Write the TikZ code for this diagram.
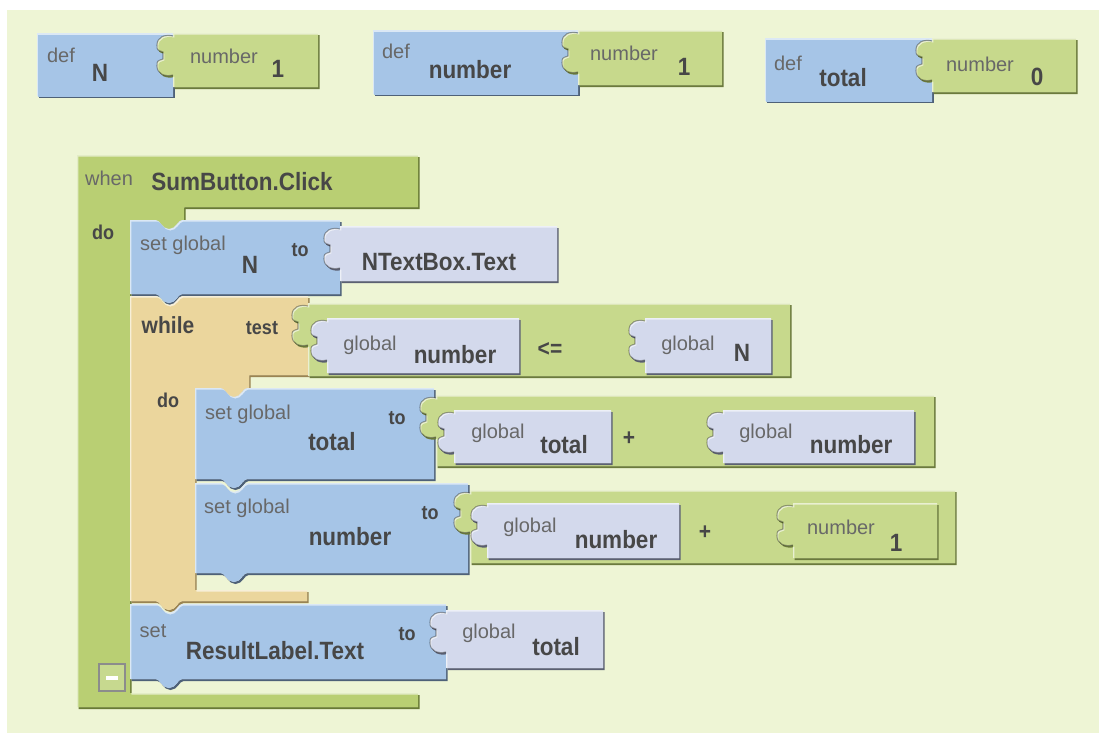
\documentclass[tikz,border=0pt]{standalone}
\usepackage{fontspec}
\setmainfont{Liberation Sans}
\newfontfamily\bfont[FakeStretch=0.9]{Liberation Sans}

\definecolor{bg}{HTML}{EEF5D5}
\definecolor{blockblue}{HTML}{A6C5E7}
\definecolor{blueshade}{HTML}{4E6178}
\definecolor{numgreen}{HTML}{C7D98C}
\definecolor{greenshade}{HTML}{6B7A3C}
\definecolor{evgreen}{HTML}{B9CF73}
\definecolor{evshade}{HTML}{687A35}
\definecolor{lav}{HTML}{D3D9EC}
\definecolor{lavshade}{HTML}{5B6072}
\definecolor{blocktan}{HTML}{EBD69D}
\definecolor{tanshade}{HTML}{9A8452}
\definecolor{txtdark}{HTML}{474747}
\definecolor{txtgray}{HTML}{686868}
\definecolor{minusgray}{HTML}{8C8C8C}

% outline of the plug on the left side of a value block
\def\plugcurve#1#2{(#1,{#2+42})
  .. controls ({#1-8},{#2+44}) and ({#1-16},{#2+41}) .. ({#1-16},{#2+33})
  .. controls ({#1-16},{#2+28}) .. ({#1-10},{#2+26}) -- ({#1-10},{#2+19})
  .. controls ({#1-16},{#2+17}) .. ({#1-16},{#2+12})
  .. controls ({#1-16},{#2+4}) and ({#1-8},{#2+1}) .. (#1,{#2+3})}

% value block: rectangle with a plug on its left side
\def\valpath#1#2#3#4{(#1,#2) -- (#3,#2) -- (#3,#4) -- (#1,#4) -- \plugcurve{#1}{#2} -- cycle}

% statement block: notch on top, bump below
\def\stmtpath#1#2#3#4{(#1,#2) -- ({#1+26},#2)
  .. controls ({#1+30},#2) and ({#1+32},{#2+9}) .. ({#1+39},{#2+9})
  .. controls ({#1+46},{#2+9}) and ({#1+48},#2) .. ({#1+52},#2)
  -- (#3,#2) -- (#3,#4) -- ({#1+52},#4)
  .. controls ({#1+48},#4) and ({#1+46},{#4+9}) .. ({#1+39},{#4+9})
  .. controls ({#1+32},{#4+9}) and ({#1+30},#4) .. ({#1+26},#4)
  -- (#1,#4) -- cycle}

% event handler frame
\def\whenpath{(77,155) -- (418,155) -- (418,207) -- (184,207) -- (184,220) -- (182,220)
  .. controls (178,220) and (176,229) .. (169,229) .. controls (162,229) and (160,220) .. (156,220)
  -- (130,220) -- (130,693) -- (418,693) -- (418,707) -- (77,707) -- cycle}

% while loop frame
\def\whilepath{(130,296) -- (156,296)
  .. controls (160,296) and (162,305) .. (169,305) .. controls (176,305) and (178,296) .. (182,296)
  -- (308,296) -- (308,375) -- (249,375) -- (249,388) -- (247,388)
  .. controls (243,388) and (241,397) .. (234,397) .. controls (227,397) and (225,388) .. (221,388)
  -- (195,388) -- (195,590) -- (307,590) -- (307,601) -- (182,601)
  .. controls (178,601) and (176,610) .. (169,610) .. controls (162,610) and (160,601) .. (156,601)
  -- (130,601) -- cycle}

% bevelled block: drop shadow, light top-left edge, body colour
\newcommand\drawblock[3]{%
  \fill[#2, shift={(1.5,2)}] #3;
  \begin{scope}
    \clip #3;
    \fill[#1!40!white] #3;
    \fill[#1, shift={(1.3,1.6)}] #3;
  \end{scope}}

% value block with the seam of its plug traced
\newcommand\drawvalue[6]{%
  \drawblock{#1}{#2}{\valpath{#3}{#4}{#5}{#6}}
  \draw[black, opacity=0.35, line width=0.8pt] \plugcurve{#3}{#4};}

\tikzset{
  big/.style={font=\bfont\bfseries\fontsize{18.75}{20}\selectfont, text=txtdark, inner sep=0pt},
  mid/.style={font=\bfont\bfseries\fontsize{17.5}{19}\selectfont, text=txtdark, inner sep=0pt},
  kw/.style={font=\bfont\bfseries\fontsize{15}{16}\selectfont, text=txtdark, inner sep=0pt},
  lbl/.style={font=\fontsize{15}{16}\selectfont, text=txtgray, inner sep=0pt},
}

\begin{document}
\begin{tikzpicture}[x=0.75pt, y=-0.75pt]
\useasboundingbox (0,0) rectangle (1099,733);
\fill[white] (0,0) rectangle (1099,733);
\fill[bg] (7,10) rectangle (1099,733);

% global definitions
\drawblock{blockblue}{blueshade}{(37,33) rectangle (173,96)}
\drawvalue{numgreen}{greenshade}{173}{33}{318}{87}
\drawblock{blockblue}{blueshade}{(373,30) rectangle (578,94)}
\drawvalue{numgreen}{greenshade}{578}{30}{722}{85}
\drawblock{blockblue}{blueshade}{(765,38) rectangle (932,101)}
\drawvalue{numgreen}{greenshade}{932}{38}{1076}{92}

% event handler and its statements
\drawblock{evgreen}{evshade}{\whenpath}
\drawblock{blockblue}{blueshade}{\stmtpath{130}{220}{340}{294}}
\drawblock{blocktan}{tanshade}{\whilepath}
\drawblock{blockblue}{blueshade}{\stmtpath{195}{388}{434}{479}}
\drawblock{blockblue}{blueshade}{\stmtpath{195}{483}{468}{573}}
\drawblock{blockblue}{blueshade}{\stmtpath{130}{604}{446}{679}}

% collapse box
\draw[line width=1.1pt, draw=minusgray, fill=evgreen!80!white] (99,664) rectangle (125,691);
\fill[white] (106,676) rectangle (118,680);

% value blocks plugged into sockets
\drawvalue{lav}{lavshade}{340}{226}{557}{281}
\drawvalue{numgreen}{greenshade}{308}{303}{790}{376}
\drawvalue{lav}{lavshade}{327}{318}{519}{373}
\drawvalue{lav}{lavshade}{645}{318}{771}{373}
\drawvalue{numgreen}{greenshade}{436}{395}{934}{466}
\drawvalue{lav}{lavshade}{454}{410}{611}{463}
\drawvalue{lav}{lavshade}{723}{410}{914}{463}
\drawvalue{numgreen}{greenshade}{470}{490}{955}{563}
\drawvalue{lav}{lavshade}{487}{503}{679}{558}
\drawvalue{numgreen}{greenshade}{793}{503}{937}{558}
\drawvalue{lav}{lavshade}{446}{610}{603}{668}

% labels: definitions
\node[lbl] (defNlbl) at (61,55) {def};
\node[big] (defN) at (100,73) {N};
\node[lbl] (numNlbl) at (224,56) {number};
\node[big] (numN) at (278,69) {1};
\node[lbl] (defNumlbl) at (396,51) {def};
\node[big] (defNum) at (470,70) {number};
\node[lbl] (numNumlbl) at (624,53) {number};
\node[big] (numNum) at (684,67) {1};
\node[lbl] (defTotlbl) at (788,63) {def};
\node[big] (defTot) at (843,78) {total};
\node[lbl] (numTotlbl) at (980,64) {number};
\node[big] (numTot) at (1037,77) {0};

% labels: event handler
\node[lbl] (whenlbl) at (109,178) {when};
\node[big] (event) at (242,182) {SumButton.Click};
\node[kw] (dolbl) at (103,232) {do};

\node[lbl] (setNlbl) at (183,245) {set global};
\node[big] (setN) at (250,265) {N};
\node[kw] (toN) at (300,250) {to};
\node[big] (textbox) at (439,262) {NTextBox.Text};

\node[mid] (whilelbl) at (168,325) {while};
\node[kw] (testlbl) at (262,328) {test};
\node[kw] (whiledo) at (168,400) {do};

\node[lbl] (cmpAlbl) at (370,345) {global};
\node[big] (cmpA) at (455,355) {number};
\node[mid] (cmpop) at (550,349) {<=};
\node[lbl] (cmpBlbl) at (688,345) {global};
\node[big] (cmpB) at (742,353) {N};

\node[lbl] (setTotlbl) at (248,414) {set global};
\node[big] (setTot) at (332,442) {total};
\node[kw] (toTot) at (397,418) {to};
\node[lbl] (addAlbl) at (498,433) {global};
\node[big] (addA) at (564,445) {total};
\node[mid] (addop) at (629,439) {+};
\node[lbl] (addBlbl) at (766,433) {global};
\node[big] (addB) at (851,445) {number};

\node[lbl] (setNumlbl) at (247,508) {set global};
\node[big] (setNum) at (350,537) {number};
\node[kw] (toNum) at (430,513) {to};
\node[lbl] (incAlbl) at (530,527) {global};
\node[big] (incA) at (616,540) {number};
\node[mid] (incop) at (705,533) {+};
\node[lbl] (incBlbl) at (841,527) {number};
\node[big] (incB) at (896,543) {1};

\node[lbl] (setReslbl) at (153,631) {set};
\node[big] (setRes) at (275,651) {ResultLabel.Text};
\node[kw] (toRes) at (407,634) {to};
\node[lbl] (resValLbl) at (489,633) {global};
\node[big] (resVal) at (556,647) {total};
\end{tikzpicture}
\end{document}
